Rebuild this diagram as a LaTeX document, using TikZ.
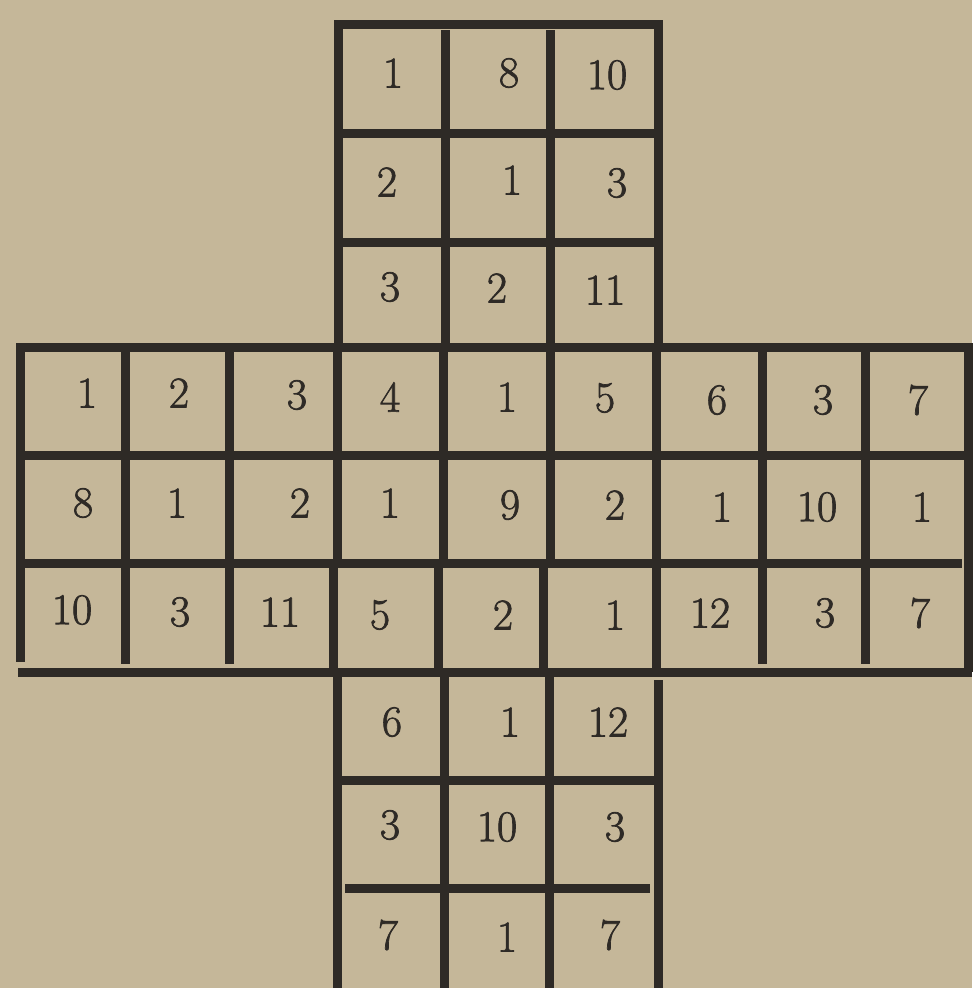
\documentclass[tikz,border=0pt]{standalone}
\usepackage{tikz}
\usepackage{fontspec}
\newfontfamily\cellfont{Latin Modern Roman}[FakeBold=1.6]

\definecolor{paper}{RGB}{197,183,153}
\definecolor{ink}{RGB}{46,42,38}

\begin{document}
\begin{tikzpicture}[x=1pt, y=-1pt,
    every node/.style={font=\cellfont\fontsize{44}{44}\selectfont, text=ink},
    rule/.style={draw=ink, line width=9pt}]
    \fill[paper] (0,0) rectangle (972,988);
    \useasboundingbox (0,0) rectangle (972,988);

    % top arm
    \draw[rule] (336,24) -- (660,24);
    \draw[rule] (342,133) -- (655,133);
    \draw[rule] (342,242) -- (655,242);
    \draw[rule] (338,20) -- (338,347);
    \draw[rule] (445,30) -- (445,347);
    \draw[rule] (550,30) -- (550,347);
    \draw[rule] (658,20) -- (658,347);

    % middle band
    \draw[rule] (16,347) -- (970,347);
    \draw[rule] (24,455) -- (964,455);
    \draw[rule] (24,563) -- (962,563);
    \draw[rule] (18,672) -- (972,672);
    \draw[rule] (20,343) -- (20,662);
    \draw[rule] (125,347) -- (125,664);
    \draw[rule] (229,347) -- (229,664);
    \draw[rule] (337,347) -- (337,563);
    \draw[rule] (333,563) -- (333,672);
    \draw[rule] (443,347) -- (443,563);
    \draw[rule] (438,563) -- (438,672);
    \draw[rule] (550,347) -- (550,563);
    \draw[rule] (543,563) -- (543,672);
    \draw[rule] (656,347) -- (656,672);
    \draw[rule] (762,347) -- (762,664);
    \draw[rule] (865,347) -- (865,664);
    \draw[rule] (968,343) -- (968,672);

    % bottom arm
    \draw[rule] (342,780) -- (655,780);
    \draw[rule] (345,888) -- (650,888);
    \draw[rule] (337,672) -- (337,988);
    \draw[rule] (444,676) -- (444,988);
    \draw[rule] (549,676) -- (549,988);
    \draw[rule] (658,680) -- (658,988);

    % numbers, top arm
    \node (t11) at (393,73) {1};
    \node (t12) at (509,73) {8};
    \node (t13) at (607,75) {10};
    \node (t21) at (387,182) {2};
    \node (t22) at (512,180) {1};
    \node (t23) at (617,183) {3};
    \node (t31) at (390,287) {3};
    \node (t32) at (497,288) {2};
    \node (t33) at (605,290) {11};

    % numbers, middle band
    \node (m11) at (87,393) {1};
    \node (m12) at (179,393) {2};
    \node (m13) at (297,395) {3};
    \node (m14) at (390,397) {4};
    \node (m15) at (507,397) {1};
    \node (m16) at (605,398) {5};
    \node (m17) at (717,400) {6};
    \node (m18) at (823,400) {3};
    \node (m19) at (918,400) {7};
    \node (m21) at (83,503) {8};
    \node (m22) at (177,503) {1};
    \node (m23) at (300,503) {2};
    \node (m24) at (390,503) {1};
    \node (m25) at (510,505) {9};
    \node (m26) at (615,505) {2};
    \node (m27) at (722,507) {1};
    \node (m28) at (817,507) {10};
    \node (m29) at (922,507) {1};
    \node (m31) at (72,610) {10};
    \node (m32) at (180,612) {3};
    \node (m33) at (280,612) {11};
    \node (m34) at (380,615) {5};
    \node (m35) at (503,615) {2};
    \node (m36) at (615,615) {1};
    \node (m37) at (710,613) {12};
    \node (m38) at (825,613) {3};
    \node (m39) at (920,613) {7};

    % numbers, bottom arm
    \node (b11) at (392,722) {6};
    \node (b12) at (510,722) {1};
    \node (b13) at (608,722) {12};
    \node (b21) at (390,825) {3};
    \node (b22) at (497,827) {10};
    \node (b23) at (615,827) {3};
    \node (b31) at (388,935) {7};
    \node (b32) at (507,937) {1};
    \node (b33) at (610,935) {7};
\end{tikzpicture}
\end{document}
